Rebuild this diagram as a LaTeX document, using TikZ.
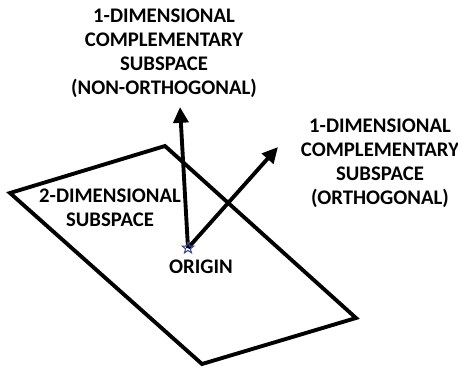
\documentclass[tikz,border=0pt]{standalone}
\usepackage{fontspec}
\setmainfont{Carlito}
\usepackage{tikz}
\usetikzlibrary{shapes.geometric,arrows.meta,positioning}
\definecolor{StarBlue}{RGB}{60,75,150}

\begin{document}
\begin{tikzpicture}[
  lbl/.style={align=center,font=\fontsize{11.8}{13.7}\selectfont\bfseries},
  edge/.style={line width=2.2pt,line join=miter},
  vec/.style={line width=2.2pt,-{Triangle[length=9pt,width=8.5pt]}},
]
\useasboundingbox (0,0) rectangle (9.16,7.32);
% plane
\coordinate (pl) at (0.2,3.46);
\coordinate (pt) at (3.3,4.4);
\coordinate (pr) at (7.12,0.96);
\coordinate (pb) at (4.04,0.04);
\draw[edge] (pl) -- (pt) -- (pr) -- (pb) -- cycle;
% vectors
\coordinate (origin) at (3.76,2.36);
\coordinate (tipnon) at (3.6,5.18);
\coordinate (tiporth) at (5.56,4.38);
\draw[vec] (origin) -- (tipnon);
\draw[vec] (origin) -- (tiporth);
\node[star,star points=5,star point ratio=2.4,draw=StarBlue,line width=0.6pt,
      minimum size=0.24cm,inner sep=0pt] (star) at (origin) {};
% labels
\node[lbl] (nonorth) at (3.28,6.26)
  {1-DIMENSIONAL\\COMPLEMENTARY\\SUBSPACE\\(NON-ORTHOGONAL)};
\node[lbl] (orth) at (7.6,4.06)
  {1-DIMENSIONAL\\COMPLEMENTARY\\SUBSPACE\\(ORTHOGONAL)};
\node[lbl] (plane) at (2.2,3.16) {2-DIMENSIONAL\\SUBSPACE};
\node[lbl] (orig) at (4.02,1.98) {ORIGIN};
\end{tikzpicture}
\end{document}
